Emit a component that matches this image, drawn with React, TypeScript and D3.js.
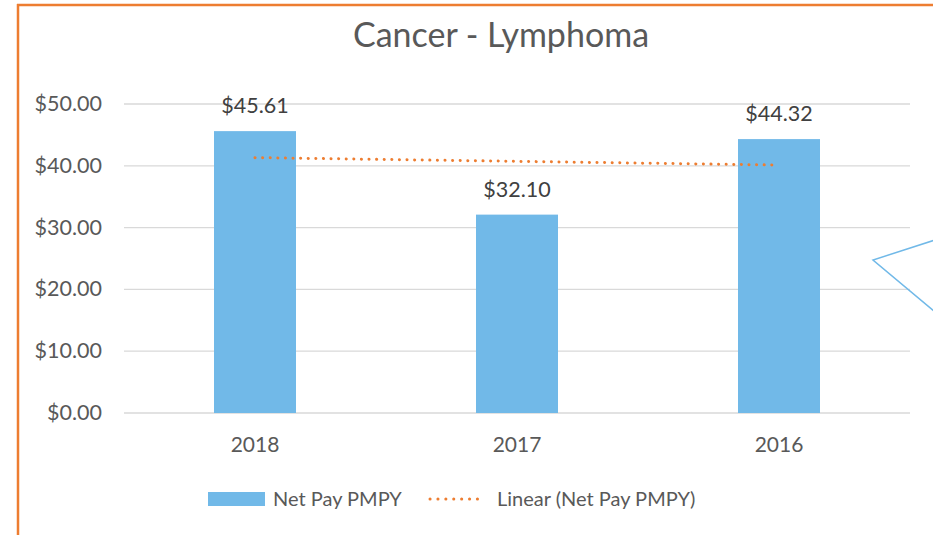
import React from 'react';
import * as d3 from 'd3';

const categories = ['2018', '2017', '2016'];
const netPay = [45.61, 32.1, 44.32];
const yTicks = [0, 10, 20, 30, 40, 50];

const font = 'Lato, "Open Sans", sans-serif';
const textColor = '#595959';

export default function App() {
  const W = 933;
  const H = 535;
  const x = d3.scaleBand().domain(categories).range([124, 910]);
  const y = d3.scaleLinear().domain([0, 50]).range([413, 104]);
  const barW = 82;

  // linear least-squares trend on category index
  const idx = netPay.map((_, i) => i);
  const mx = d3.mean(idx) || 0;
  const my = d3.mean(netPay) || 0;
  const slope =
    d3.sum(idx, i => (i - mx) * (netPay[i] - my)) / d3.sum(idx, i => (i - mx) ** 2);
  const trend = (i: number) => my + slope * (i - mx);
  const cx = (c: string) => (x(c) || 0) + x.bandwidth() / 2;
  const fmt = d3.format('$.2f');

  return (
    <svg width={W} height={H} style={{ position: 'absolute', left: 0, top: 0 }}>
      <rect x={0} y={0} width={W} height={H} fill="#fff" />
      {/* chart border */}
      <line x1={17} x2={W} y1={5} y2={5} stroke="#ED7D31" strokeWidth={2.5} />
      <line x1={18} x2={18} y1={4} y2={H} stroke="#ED7D31" strokeWidth={2.5} />

      <text x={501} y={47} textAnchor="middle" fontFamily={font} fontSize={34} fill={textColor}>
        Cancer - Lymphoma
      </text>

      {yTicks.map(t => (
        <g key={t}>
          <line x1={124} x2={910} y1={y(t)} y2={y(t)} stroke="#D9D9D9" strokeWidth={1.3} />
          <text x={102} y={y(t) + 7} textAnchor="end" fontFamily={font} fontSize={21.5} fill={textColor}>
            {fmt(t)}
          </text>
        </g>
      ))}

      {categories.map((c, i) => (
        <g key={c}>
          <rect x={cx(c) - barW / 2} y={y(netPay[i])} width={barW} height={y(0) - y(netPay[i])} fill="#71B9E8" />
          <text x={cx(c)} y={y(netPay[i]) - 18} textAnchor="middle" fontFamily={font} fontSize={21.5} fill="#404040">
            {fmt(netPay[i])}
          </text>
          <text x={cx(c)} y={452} textAnchor="middle" fontFamily={font} fontSize={21} fill={textColor}>
            {c}
          </text>
        </g>
      ))}

      <line
        x1={cx(categories[0])}
        x2={cx(categories[2]) - 6}
        y1={y(trend(0))}
        y2={y(trend(2) + 0.1)}
        stroke="#ED7D31"
        strokeWidth={3}
        strokeDasharray="0.1 7.5"
        strokeLinecap="round"
      />

      {/* callout fragment at right edge */}
      <polyline points="935,240 873,260 935,312" fill="none" stroke="#71B9E8" strokeWidth={1.5} />

      {/* legend */}
      <rect x={208} y={492} width={57} height={14} fill="#71B9E8" />
      <text x={273} y={506} fontFamily={font} fontSize={20} fill={textColor}>Net Pay PMPY</text>
      <line x1={430} x2={485} y1={499} y2={499} stroke="#ED7D31" strokeWidth={3} strokeDasharray="0.1 7.8" strokeLinecap="round" />
      <text x={497} y={506} fontFamily={font} fontSize={20} fill={textColor}>Linear (Net Pay PMPY)</text>
    </svg>
  );
}
